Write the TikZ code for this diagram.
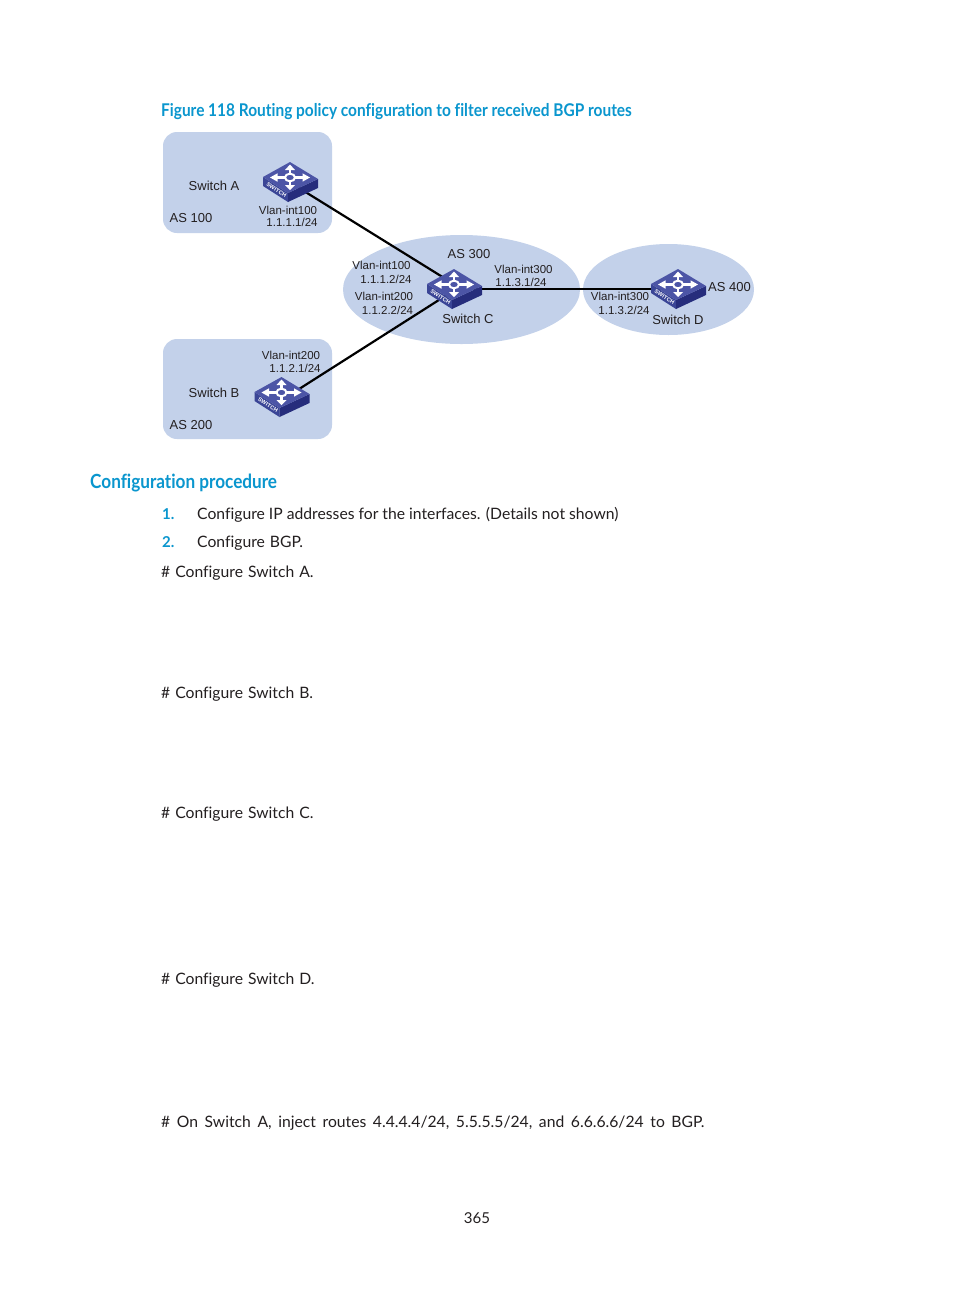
\documentclass[tikz,border=0pt]{standalone}
\usepackage{fontspec}
\setmainfont{Lato}[Ligatures=NoCommon]
\newfontfamily\labelfont{Liberation Sans}
\newfontfamily\headfont{Lato}[FakeStretch=0.88,Ligatures=NoCommon]
\definecolor{regionblue}{HTML}{C3D1EA}
\definecolor{headblue}{HTML}{0A96CE}
\definecolor{topblue}{HTML}{4C55A6}
\definecolor{leftblue}{HTML}{3A4596}
\definecolor{rightblue}{HTML}{262D7C}
\definecolor{bodygrey}{HTML}{231F20}
\tikzset{
  region/.style={fill=regionblue,draw=none},
  link/.style={draw=black,line width=2.2pt},
  flatlink/.style={draw=black,line width=1.8pt},
  lbl/.style={font=\labelfont\fontsize{13}{15}\selectfont,text=bodygrey,inner sep=0pt},
  ifl/.style={font=\labelfont\fontsize{11.5}{13}\selectfont,text=bodygrey,inner sep=0pt},
  body/.style={font=\fontsize{15.7}{19}\selectfont,text=bodygrey,inner sep=0pt,anchor=base west},
  num/.style={font=\bfseries\fontsize{15}{18}\selectfont,text=headblue,inner sep=0pt,anchor=base west},
  pics/switchicon/.style={code={
    \fill[leftblue] (-27,15) -- (-2,31) -- (-2,40) -- (-27,24) -- cycle;
    \fill[rightblue] (28,17) -- (-2,31) -- (-2,40) -- (28,26) -- cycle;
    \fill[topblue] (0,0) -- (28,17) -- (-2,31) -- (-27,15) -- cycle;
    \begin{scope}[shift={(0,15.5)}]
      \draw[white,line width=2.4pt] (0,-9) -- (0,-3.5) (0,3.5) -- (0,9);
      \draw[white,line width=2.4pt] (-14,0) -- (-5,0) (5,0) -- (14,0);
      \draw[white,line width=2pt] (0,0) ellipse (5 and 3.8);
      \fill[white] (0,-13) -- (-5,-7.5) -- (5,-7.5) -- cycle;
      \fill[white] (0,12.5) -- (-5,7.5) -- (5,7.5) -- cycle;
      \fill[white] (-20,0) -- (-12.5,-4.2) -- (-12.5,4.2) -- cycle;
      \fill[white] (20,0) -- (12.5,-4.2) -- (12.5,4.2) -- cycle;
    \end{scope}
    \node[text=white,inner sep=0pt,rotate=-31,font=\labelfont\bfseries\fontsize{5.6}{6}\selectfont] at (-13.5,28) {SWITCH};
  }}
}
\begin{document}
\begin{tikzpicture}[x=1pt,y=-1pt]
\useasboundingbox (0,0) rectangle (954,1296);
\fill[white] (0,0) rectangle (954,1296);
% regions
\fill[region,rounded corners=14pt] (163,132) rectangle (332,233);
\fill[region,rounded corners=14pt] (163,339) rectangle (332,439);
\fill[region] (461.5,289.5) ellipse (118.5 and 54.5);
\fill[region] (668.5,289.5) ellipse (85.5 and 45.5);
% switch anchors
\coordinate (swA) at (290,182.4);
\coordinate (swB) at (282,399.9);
\coordinate (swC) at (459,287.2);
\coordinate (swCport) at (465,288.8);
\coordinate (swDport) at (665,288.8);
% links
\draw[link] (swA) -- (swC);
\draw[link] (swB) -- (swC);
\draw[flatlink] (swCport) -- (swDport);
% switches
\pic at (290,162) {switchicon};
\pic at (281.5,377) {switchicon};
\pic at (454,269) {switchicon};
\pic at (678,269) {switchicon};
% labels
\node[lbl] (tA) at (214,186) {Switch A};
\node[lbl] (tAS100) at (191,218) {AS 100};
\node[ifl] (iA1) at (288,210) {Vlan-int100};
\node[ifl] (iA2) at (292,222.5) {1.1.1.1/24};
\node[lbl] (tB) at (214,393) {Switch B};
\node[lbl] (tAS200) at (191,425) {AS 200};
\node[ifl] (iB1) at (291,355) {Vlan-int200};
\node[ifl] (iB2) at (295,368.5) {1.1.2.1/24};
\node[lbl] (tAS300) at (469,254) {AS 300};
\node[lbl] (tC) at (468,318.5) {Switch C};
\node[ifl] (iC1) at (381.5,265.5) {Vlan-int100};
\node[ifl] (iC2) at (386,279) {1.1.1.2/24};
\node[ifl] (iC3) at (384,296.5) {Vlan-int200};
\node[ifl] (iC4) at (387.5,310) {1.1.2.2/24};
\node[ifl] (iC5) at (523.5,269.5) {Vlan-int300};
\node[ifl] (iC6) at (521,282.5) {1.1.3.1/24};
\node[lbl] (tAS400) at (729.5,287) {AS 400};
\node[lbl] (tD) at (678,320) {Switch D};
\node[ifl] (iD1) at (620,296.5) {Vlan-int300};
\node[ifl] (iD2) at (624,310) {1.1.3.2/24};
% page text
\node[inner sep=0pt,anchor=base west,text=headblue,font=\headfont\bfseries\fontsize{17.55}{20}\selectfont] (title) at (161,116) {Figure 118 Routing policy configuration to filter received BGP routes};
\node[inner sep=0pt,anchor=base west,text=headblue,font=\headfont\bfseries\fontsize{19.5}{24}\selectfont] (proc) at (90,488) {Configuration procedure};
\node[num] (n1) at (162,519) {1.};
\node[body] (s1) at (197,519) {Configure IP addresses for the interfaces. (Details not shown)};
\node[num] (n2) at (162,547) {2.};
\node[body] (s2) at (197,547) {\spaceskip=5pt Configure BGP.};
\node[body] (cA) at (161,577) {\spaceskip=5pt\# Configure Switch A.};
\node[body] (cB) at (161,698) {\spaceskip=5pt\# Configure Switch B.};
\node[body] (cC) at (161,818) {\spaceskip=5pt\# Configure Switch C.};
\node[body] (cD) at (161,984) {\spaceskip=5pt\# Configure Switch D.};
\node[body] (inj) at (161,1127) {\spaceskip=6.6pt\# On Switch A, inject routes 4.4.4.4/24, 5.5.5.5/24, and 6.6.6.6/24 to BGP.};
\node[font=\fontsize{15}{18}\selectfont,text=bodygrey,inner sep=0pt,anchor=base] (pg) at (477,1223) {365};
\end{tikzpicture}
\end{document}
